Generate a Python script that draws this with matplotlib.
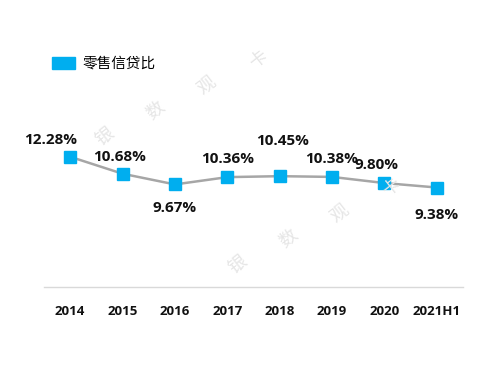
import matplotlib
matplotlib.use("Agg")
import matplotlib.pyplot as plt
from matplotlib.patches import Patch

plt.rcParams['font.family'] = ['Noto Sans CJK SC', 'DejaVu Sans']

years = ["2014", "2015", "2016", "2017", "2018", "2019", "2020", "2021H1"]
ratio = [12.28, 10.68, 9.67, 10.36, 10.45, 10.38, 9.80, 9.38]
labels = ["12.28%", "10.68%", "9.67%", "10.36%", "10.45%", "10.38%", "9.80%", "9.38%"]
series_name = "零售信贷比"

# label offsets (points) relative to each marker
offs = [(-14, 12), (-2, 12), (0, -17), (0, 13), (2, 25), (0, 13), (-6, 13), (0, -20)]

blue = "#00AEEF"
grey = "#A6A6A6"
num_font = ['Open Sans', 'DejaVu Sans']

fig = plt.figure(figsize=(5, 3.75), dpi=100)
ax = fig.add_axes([0.088, 0.235, 0.838, 0.565])

x = list(range(len(years)))
ax.plot(x, ratio, color=grey, lw=1.8, zorder=2)
ax.plot(x, ratio, ls="none", marker="s", ms=9.2, color=blue, zorder=3)

for i, (v, t) in enumerate(zip(ratio, labels)):
    ax.annotate(t, (i, v), xytext=offs[i], textcoords="offset points",
                ha="center", va="center", fontsize=11, fontweight="bold",
                color="#111111", family=num_font)

ax.set_xlim(-0.5, len(years) - 0.5)
ax.set_ylim(0, 20)
ax.set_xticks(x)
ax.set_xticklabels(years, fontsize=9.5, fontweight="bold", color="#111111",
                   family=num_font)
ax.tick_params(axis="x", length=0, pad=13)
ax.set_yticks([])
for s in ["top", "right", "left"]:
    ax.spines[s].set_visible(False)
ax.spines["bottom"].set_color("#D9D9D9")
ax.spines["bottom"].set_linewidth(1)

# watermark
wm = "银数观卡"
for bx, by in [(105, 136), (238, 264)]:
    for k, ch in enumerate(wm):
        fig.text((bx + 51 * k) / 500, 1 - (by - 25.5 * k) / 375, ch, fontsize=13,
                 color="#E6E6E6", rotation=38, ha="center", va="center", zorder=0)

fig.legend(handles=[Patch(color=blue, label=series_name)], loc="upper left",
           bbox_to_anchor=(0.078, 0.883), frameon=False, fontsize=10.5,
           handlelength=1.6, handleheight=0.8, handletextpad=0.5)

fig.savefig("out.png", dpi=100)
